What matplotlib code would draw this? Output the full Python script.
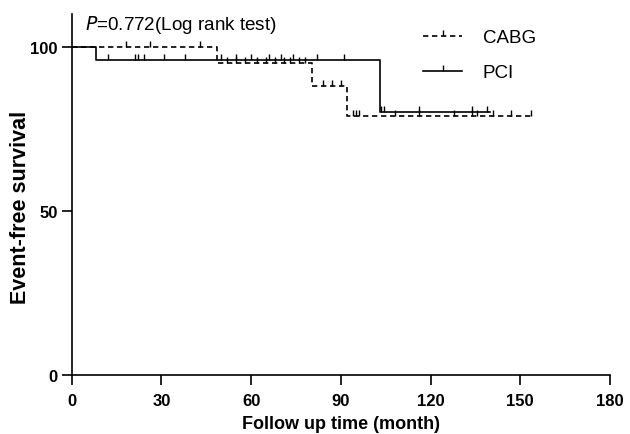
import matplotlib
matplotlib.use("Agg")
import matplotlib.pyplot as plt
from matplotlib.lines import Line2D

plt.rcParams['font.family'] = ['Liberation Sans', 'DejaVu Sans']

# Kaplan-Meier step data (month, survival %)
pci_time = [0, 8, 103, 140]
pci_surv = [100, 96, 80, 80]
cabg_time = [0, 48.5, 80.5, 92, 154]
cabg_surv = [100, 95, 88, 79, 79]

# censored observations
pci_cens_t = [12, 21, 22, 24, 31, 38, 50, 55, 60, 66, 70, 74, 82, 91, 103.5, 104.5, 116, 134, 139]
cabg_cens_t = [18, 26, 43, 52, 55, 58, 62, 65, 68, 71, 73, 76, 78, 84, 87, 90,
               94, 95, 96, 108, 116, 128, 134, 135.5, 141, 147, 153.5]

xticks = [0, 30, 60, 90, 120, 150, 180]
yticks = [0, 50, 100]


def surv_at(times, surv, t):
    s = surv[0]
    for ti, si in zip(times, surv):
        if t >= ti:
            s = si
    return s


fig = plt.figure(figsize=(6.3, 4.35), dpi=100)
ax = fig.add_axes([0.114, 0.1356, 0.854, 0.83])

dash = (0, (3.2, 2.2))
ax.step(pci_time, pci_surv, where='post', color='black', lw=1.2)
ax.step(cabg_time, cabg_surv, where='post', color='black', lw=1.2, linestyle=dash)

ax.plot(pci_cens_t, [surv_at(pci_time, pci_surv, t) for t in pci_cens_t],
        linestyle='none', marker=2, color='black', markersize=4, mew=1.0)
ax.plot(cabg_cens_t, [surv_at(cabg_time, cabg_surv, t) for t in cabg_cens_t],
        linestyle='none', marker=2, color='black', markersize=4, mew=1.0)

ax.set_xlim(0, 180)
ax.set_ylim(0, 110)
ax.set_xticks(xticks)
ax.set_yticks(yticks)
for s in ['top', 'right']:
    ax.spines[s].set_visible(False)
for s in ['left', 'bottom']:
    ax.spines[s].set_linewidth(1.2)
ax.tick_params(direction='out', length=7, width=1.2, labelsize=12, pad=3)
ax.tick_params(axis='x', pad=6)
for lab in ax.get_xticklabels() + ax.get_yticklabels():
    lab.set_fontweight('bold')

ax.set_xlabel('Follow up time (month)', fontsize=13, fontweight='bold', labelpad=5)
ax.set_ylabel('Event-free survival', fontsize=15.5, fontweight='bold')
ax.yaxis.set_label_coords(-0.076, 0.468)

ax.text(4.3, 106.8, r'$\it{P}$=0.772(Log rank test)', fontsize=13.6, va='center')

handles = [
    Line2D([0], [0], color='black', lw=1.2, linestyle=dash, marker=2, markersize=4),
    Line2D([0], [0], color='black', lw=1.2, marker=2, markersize=4),
]
ax.legend(handles, ['CABG', 'PCI'], loc='upper left', bbox_to_anchor=(423 / 630, 1 - 30 / 435),
          bbox_transform=fig.transFigure, borderpad=0, borderaxespad=0,
          frameon=False, fontsize=13.5, handlelength=2.1, labelspacing=0.96,
          handletextpad=1.1, numpoints=1)

fig.savefig('out.png', dpi=100)
